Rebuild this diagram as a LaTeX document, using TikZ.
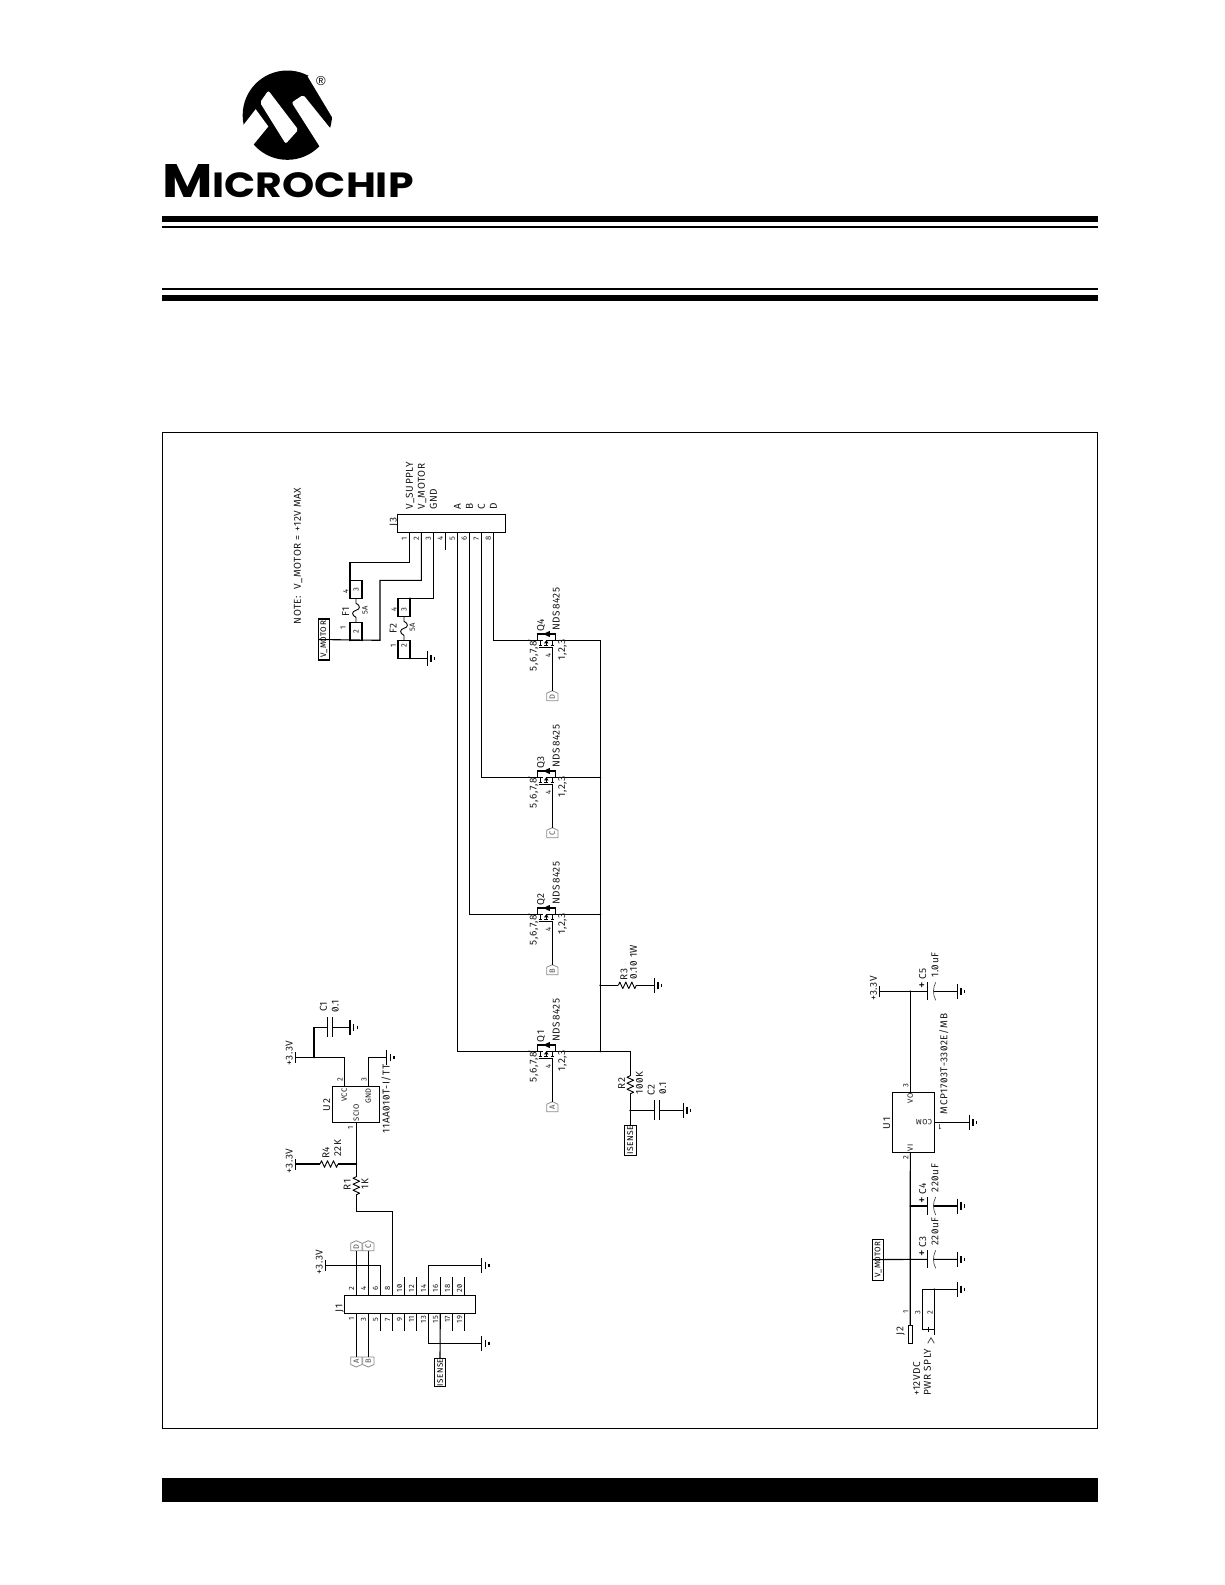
\documentclass[tikz,border=0pt]{standalone}
\usepackage{fontspec}
\usepackage{graphicx}
\setmainfont[RawFeature=+zero,LetterSpace=6]{Fira Sans}
\newfontfamily\logofont{Poppins}
\newfontfamily\regfont{Liberation Sans}
\newcounter{lb}
\tikzset{
 wire/.style={line width=1.1pt,line cap=butt},
 box/.style={draw,line width=1.1pt,inner sep=0pt,outer sep=0pt},
 lab/.style={rotate=90,inner sep=0pt,text depth=0pt,text=black!90,font=\fontsize{10}{10}\selectfont},
 small/.style={font=\fontsize{7.6}{7.6}\selectfont},
 bigplus/.style={font=\fontsize{13}{13}\selectfont,text=black},
 rule/.style={fill=black},
 gndsym/.pic={\draw[line width=1.1pt] (0,-7.5)--(0,7.5) (3.67,-3.8)--(3.67,3.8) (7.3,-1.8)--(7.3,1.8);},
 railsym/.pic={\draw[line width=1.1pt] (0,-5.5)--(0,5.5);},
 dot/.pic={\fill (0,0) circle[radius=1];},
 resh/.pic={\draw[line width=.9pt,line join=round] (0,0)--(1.5,-3.3)--(4.5,3.3)--(7.5,-3.3)--(10.5,3.3)--(13.5,-3.3)--(16.5,3.3)--(18,0);},
 resv/.pic={\draw[line width=.9pt,line join=round] (0,0)--(-3.3,1.5)--(3.3,4.5)--(-3.3,7.5)--(3.3,10.5)--(-3.3,13.5)--(3.3,16.5)--(0,18);},
 fusesym/.pic={\draw[line width=.9pt] (0,0)--(0,5) .. controls (4.5,7) and (4.5,11) .. (0,12) .. controls (-4.5,13) and (-4.5,17) .. (0,19)--(0,24);},
 capn/.pic={\draw[line width=1.1pt] (0,-10)--(0,10) (5.4,-10)--(5.4,10); \coordinate (-b) at (5.4,0);},
 capp/.pic={\draw[line width=1.1pt] (0,-9)--(0,9); \draw[line width=.7pt,black!70] (8,-9) .. controls (5,-3) and (5,3) .. (8,9); \coordinate (-b) at (5.8,0);},
 mosfet/.pic={
   \draw[line width=1.1pt] (-9,0)--(-9,-6.3)--(9.4,-6.3)--(9.4,0);
   \fill (-3,-6.3)--(2.6,-9)--(2.6,-3.6)--cycle;
   \draw[line width=1pt] (3,-9)--(3,-3.6);
   \draw[line width=1.1pt] (-17.3,0)--(-3,0) (0,0)--(17.7,0);
   \draw[line width=1pt] (-6,0)--(-6,5.3) (0,0)--(0,5.3) (6,0)--(6,5.3);
   \draw[line width=1pt] (-7.8,5.3)--(-4.2,5.3) (-2,5.3)--(2,5.3) (4.2,5.3)--(7.8,5.3);
   \draw[line width=1pt] (-7.8,7)--(6,7);
   \fill (0,-0.2)--(-2.2,3)--(2.2,3)--cycle;
   \fill (-17.3,0) circle[radius=.9] (17.7,0) circle[radius=.9];
   \coordinate (-d) at (-17.3,0);
   \coordinate (-s) at (17.7,0);
   \coordinate (-g) at (6,7);
 },
 tagup/.pic={\draw[line width=.8pt,black!45] (0,0)--(5.6,2.5)--(5.6,10)--(-5.6,10)--(-5.6,2.5)--cycle;
   \node[lab,small,text=black!70] at (0,6) {#1};
   \coordinate (-t) at (0,0); \coordinate (-b) at (0,10);},
 tagdn/.pic={\draw[line width=.8pt,black!45] (0,0)--(5.6,-2.5)--(5.6,-10)--(-5.6,-10)--(-5.6,-2.5)--cycle;
   \node[lab,small,text=black!70] at (0,-6) {#1};
   \coordinate (-b) at (0,-10);},
}
\newcommand\T[4][]{\stepcounter{lb}\node[lab,#1] (t\the\value{lb}) at (#2,#3) {#4};}
\begin{document}
\begin{tikzpicture}[x=1pt,y=-1pt]
\useasboundingbox[fill=white] (0,0) rectangle (1225,1585);

% ---------- page furniture
\fill[rule] (162,216) rectangle (1098,222);
\fill[rule] (162,225.7) rectangle (1098,227.7);
\fill[rule] (162,288) rectangle (1098,290);
\fill[rule] (162,295) rectangle (1098,301);
\draw[line width=1pt] (162,432.5) rectangle (1097.7,1428.3);
\fill[rule] (162,1478.3) rectangle (1098,1501.7);

% ---------- logo
\begin{scope}[shift={(235,66.5)},x=0.3333pt,y=-0.3333pt]
 \fill (157,146) circle[radius=134];
 \fill[white] (218,30)--(293,155)--(330,100)--(260,0)--cycle;
 \fill[white] (22,180)--(62,128)--(100,180)--(55,235)--(0,250)--(0,190)--cycle;
 \fill[white,rounded corners=2pt] (100,72)--(75,108)--(152,232)--(190,190)--cycle;
 \fill[white,rounded corners=2pt] (205,85)--(170,108)--(268,262)--(320,250)--(320,190)--(287,187)--cycle;
\end{scope}
\node[inner sep=0pt,font=\fontsize{13}{13}\selectfont\regfont] (regmark) at (321,81) {\textregistered};
\node[anchor=base west,inner sep=0pt,font=\logofont\bfseries] (brand) at (162,197)
  {\scalebox{1.17}[1]{{\fontsize{47}{47}\selectfont M}{\fontsize{35}{35}\selectfont ICROCHIP}}};

% ---------- J3
\node[box,minimum width=108pt,minimum height=18.3pt] (J3) at (451.3,523.2) {};
\T{393.3}{521.7}{J3}
\foreach \n/\x in {1/409.3,2/421.3,3/433.3,4/445.3,5/457.3,6/469.3,7/481.3,8/493.3}{
  \coordinate (J3p\n) at (\x,532.3);
  \T[small]{\x-5}{538.7}{\n}
}
\foreach \x/\s in {409.3/V\_SUPPLY,421.3/V\_MOTOR,433.3/GND,457.3/A,469.3/B,481.3/C,493.3/D}{
  \stepcounter{lb}\node[lab,anchor=west] (t\the\value{lb}) at (\x,509.7) {\s};
}
\T{297.3}{556}{NOTE:\ \ V\_MOTOR = +12V MAX}
\coordinate (J3p4e) at (445.3,550.3);
\draw[wire] (J3p4)--(J3p4e);

% fuses
\node[box,minimum width=12pt,minimum height=18pt] (F1a) at (356,589.3) {};
\node[box,minimum width=12pt,minimum height=18pt] (F1b) at (356,631.3) {};
\pic at (356,598.3) {fusesym};
\T[small]{356}{590}{3}\T[small]{356}{631.5}{2}
\T[small]{345.7}{591.7}{4}\T[small]{343}{628}{1}
\T{345.7}{611.7}{F1}\T[small]{365}{610}{5A}
\node[box,minimum width=12pt,minimum height=18pt] (F2a) at (404,607.3) {};
\node[box,minimum width=12pt,minimum height=18pt] (F2b) at (404,649.3) {};
\pic at (404,616.3) {fusesym};
\T[small]{404}{609.3}{3}\T[small]{404}{646}{2}
\T[small]{394}{609.3}{4}\T[small]{393.3}{646}{1}
\T{393.3}{628.3}{F2}\T[small]{412.3}{627.3}{5A}
\coordinate (F1t) at (350,580.3);
\coordinate (F2t) at (410,598.3);
\coordinate (F1j) at (362,640.3);
\coordinate (F1k) at (350,640.3);
\coordinate (F2g) at (410,658.3);
\node[box,rotate=90,minimum width=41pt,minimum height=11pt,font=\fontsize{8}{8}\selectfont] (VM1) at (323.8,639.5) {V\_MOTOR};
\draw[wire] (J3p1)--(409.3,562.3)-|(F1t);
\draw[wire] (J3p2)--(421.3,580.3)-|(380,640.3)--(VM1.north);
\draw[wire] (J3p3)--(433.3,598.3)--(F2t);
\pic at (F1t) {dot}; \pic at (F2t) {dot}; \pic at (F1j) {dot}; \pic at (F1k) {dot}; \pic at (F2g) {dot};
\coordinate (G0) at (427.3,658.3);
\draw[wire] (F2g)--(G0);
\pic at (G0) {gndsym};

% ---------- MOSFETs
\coordinate (S1) at (600.3,1051.3);
\foreach \q/\y/\tg/\p in {Q1/1051.3/A/5,Q2/914.3/B/6,Q3/777.3/C/7,Q4/640.3/D/8}{
  \pic (\q) at (546.3,\y) {mosfet};
  \pic (T\q) at (552.3,\y+50.4) {tagup={\tg}};
  \draw[wire] (\q-g)--(T\q-t);
  \draw[wire] (J3p\p)|-(\q-d);
  \draw[wire] (\q-s)-|(S1);
  \T{540.7}{\y-15}{\q}
  \T[anchor=west]{556}{\y-9.6}{NDS8425}
  \T[anchor=east]{533.3}{\y+0.5}{5,6,7,8}
  \T[anchor=east]{561.7}{\y-1.5}{1,2,3}
  \T[small]{548.3}{\y+15.4}{4}
}
\foreach \y in {914.3,777.3,985.3,1051.3}{\pic at (600.3,\y) {dot};}

% R3
\coordinate (R3l) at (600.3,985.3);
\pic at (618.3,985.3) {resh};
\coordinate (R3g) at (654.3,985.3);
\draw[wire] (R3l)--(618.3,985.3) (636.3,985.3)--(R3g);
\pic at (R3g) {gndsym};
\T{624}{974.3}{R3}
\T[anchor=west]{633.3}{980}{0.10 1W}

% R2, C2, ISENSE
\coordinate (R2t) at (630.3,1075.7);
\draw[wire] (S1)-|(R2t);
\pic at (R2t) {resv};
\node[box,rotate=90,minimum width=29.6pt,minimum height=12pt,font=\fontsize{8.4}{8.4}\selectfont] (IS1) at (630.3,1140.5) {ISENSE};
\draw[wire] (630.3,1093.7)--(IS1.east);
\coordinate (C2j) at (630.3,1110.3);
\pic at (C2j) {dot};
\pic (C2) at (654.3,1110.3) {capn};
\coordinate (C2g) at (683.3,1110.3);
\draw[wire] (C2j)--(654.3,1110.3) (C2-b)--(C2g);
\pic at (C2g) {gndsym};
\T{621.7}{1083.3}{R2}\T{639.3}{1083.3}{100K}
\T{651}{1090}{C2}\T{662.7}{1088}{0.1}

% ---------- U2
\node[box,minimum width=47pt,minimum height=35.6pt] (U2) at (355.8,1104.5) {};
\coordinate (U2v) at (344.3,1086.7);
\coordinate (U2g) at (368.3,1086.7);
\coordinate (U2s) at (356.3,1122.3);
\coordinate (R1) at (356.3,1176.7);
\coordinate (R4j) at (356.3,1164);
\coordinate (V1) at (295.7,1057.3);
\coordinate (V2) at (295.7,1164);
\coordinate (C1j) at (314,1057.3);
\coordinate (G1) at (386.7,1057.3);
\coordinate (G2) at (350,1027.3);
\draw[wire] (U2v)|-(V1);
\draw[wire] (U2g)|-(G1);
\draw[wire] (U2s)--(R1);
\draw[wire] (C1j)|-(327.3,1027.3);
\pic (C1) at (327.3,1027.3) {capn};
\draw[wire] (C1-b)--(G2);
\pic at (V1) {railsym}; \pic at (V2) {railsym}; \pic at (G1) {gndsym}; \pic at (G2) {gndsym}; \pic at (C1j) {dot}; \pic at (R4j) {dot};
\pic at (320,1164) {resh};
\draw[wire] (V2)--(320,1164) (338,1164)--(R4j);
\pic at (R1) {resv};
\T{289.3}{1053}{+3.3V}\T{289.3}{1161}{+3.3V}
\T{323.3}{1006.7}{C1}\T{335.3}{1006.7}{0.1}
\T[small]{340}{1080}{2}\T[small]{364}{1080}{3}\T[small]{350.7}{1128.3}{1}
\T[small]{344.3}{1095}{VCC}\T[small]{368.3}{1096}{GND}\T[small]{356.3}{1112.7}{SCIO}
\T{326.7}{1105}{U2}
\T{385.7}{1099}{11AA010T-I/TT}
\T{326}{1152.7}{R4}\T{337.7}{1148.3}{22K}
\T{347.3}{1185}{R1}\T{365}{1184.3}{1K}

% ---------- J1
\node[box,minimum width=131pt,minimum height=18pt] (J1) at (409.8,1304.3) {};
\T{339}{1308.3}{J1}
\foreach \n/\m/\x in {2/1/356.3,4/3/368.3,6/5/380.3,8/7/392.3,10/9/404.3,12/11/416.3,14/13/428.3,16/15/440.3,18/17/452.3,20/19/464.3}{
  \coordinate (Jt\n) at (\x,1295.3);
  \coordinate (Jb\m) at (\x,1313.3);
  \T[small]{\x-4.7}{1288.3}{\n}
  \T[small]{\x-4.7}{1319.3}{\m}
}
\foreach \n/\x in {10/404.3,12/416.3,16/440.3,18/452.3,20/464.3}{\draw[wire] (Jt\n)--(\x,1277.3);}
\foreach \n/\x in {5/380.3,7/392.3,9/404.3,11/416.3,17/452.3,19/464.3}{\draw[wire] (Jb\n)--(\x,1331);}
\pic (TD) at (356.3,1240.7) {tagup={D}};
\pic (TC) at (368.3,1240.7) {tagup={C}};
\pic (TA) at (356.3,1367) {tagdn={A}};
\pic (TB) at (368.3,1367) {tagdn={B}};
\draw[wire] (Jt2)--(TD-b); \draw[wire] (Jt4)--(TC-b);
\draw[wire] (Jb1)--(TA-b); \draw[wire] (Jb3)--(TB-b);
\coordinate (V3) at (325.7,1265.3);
\coordinate (G3) at (481.7,1265.3);
\coordinate (G4) at (481.7,1343.3);
\draw[wire] (Jt6)|-(V3);
\draw[wire] (Jt14)|-(G3);
\draw[wire] (Jb13)|-(G4);
\pic at (V3) {railsym}; \pic at (G3) {gndsym}; \pic at (G4) {gndsym};
\T{319.3}{1262}{+3.3V}
\draw[wire] (356.3,1194.7)--(356.3,1211.7)-|(Jt8);
\node[box,rotate=90,minimum width=28.4pt,minimum height=10.6pt,font=\fontsize{8}{8}\selectfont] (IS2) at (440,1372.5) {ISENSE};
\draw[wire] (Jb15)--(IS2.east);

% ---------- U1
\node[box,minimum width=42pt,minimum height=60pt] (U1) at (913.3,1122.3) {};
\coordinate (U1o) at (910.3,1092.3);
\coordinate (U1i) at (910.3,1152.3);
\coordinate (V4) at (879.3,991.3);
\coordinate (C5j) at (910.3,991.3);
\coordinate (G5) at (957.3,991.3);
\coordinate (G6) at (969.3,1122.3);
\coordinate (C4j) at (910.3,1206);
\coordinate (C3j) at (910.3,1259.3);
\coordinate (G7) at (957.3,1206);
\coordinate (G8) at (957.3,1259.3);
\coordinate (G9) at (957.3,1289.3);
\node[box,minimum width=3.7pt,minimum height=18.3pt] (J2) at (910.2,1334.2) {};
\draw[wire] (U1o)--(C5j);
\draw[wire] (V4)--(927.7,991.3);
\draw[wire] (U1i)--(J2.north);
\draw[wire] (U1.east)--(G6);
\pic at (V4) {railsym}; \pic at (C5j) {dot}; \pic at (G6) {gndsym};
\pic (C5) at (927.7,991.3) {capp};
\draw[wire] (C5-b)--(G5); \pic at (G5) {gndsym};
\pic (C4) at (927.7,1206) {capp};
\draw[wire] (C4j)--(927.7,1206) (C4-b)--(G7); \pic at (G7) {gndsym}; \pic at (C4j) {dot};
\pic (C3) at (927.7,1259.3) {capp};
\node[box,rotate=90,minimum width=41pt,minimum height=11pt,font=\fontsize{8}{8}\selectfont] (VM2) at (878.2,1259.6) {V\_MOTOR};
\draw[wire] (VM2.north)--(927.7,1259.3) (C3-b)--(G8); \pic at (G8) {gndsym}; \pic at (C3j) {dot};
% J2 return
\coordinate (J2c) at (934.3,1289.3);
\draw[wire] (G9)--(922.3,1289.3)--(922.3,1329.3)--(934.3,1329.3);
\draw[wire] (J2c)--(934.3,1335);
\pic at (G9) {gndsym}; \pic at (J2c) {dot};
\draw[line width=1pt] (928.3,1327)--(928.3,1332);
\draw[line width=.8pt,black!70] (927.7,1343.3)--(931,1337.7)--(934.3,1343.3);
% U1 text
\T{886.7}{1123.3}{U1}
\T[small]{905.7}{1086}{3}\T[small]{905.7}{1157.7}{2}
\T[small]{910.3}{1098.3}{VO}\T[small]{910.3}{1148}{VI}
\T[small,rotate=90]{924}{1122.3}{COM}
\T[small,rotate=90]{940}{1126.7}{1}
\T{943.3}{1064}{MCP1703T-3302E/MB}
\T{873.3}{988.3}{+3.3V}
\foreach \l/\v/\yy in {C5/1.0uF/991.3,C4/220uF/1206,C3/220uF/1259.3}{
  \T{922.7}{\yy-17}{\l}
  \T[bigplus]{922.7}{\yy-6}{+}
  \T[anchor=west]{935}{\yy-13.3}{\v}
}
\T[small]{905.7}{1312.3}{1}\T[small]{917.7}{1312.3}{3}\T[small]{930}{1312.3}{2}
\T{900}{1331}{J2}
\T[anchor=west]{916.7}{1396}{+12VDC}
\T[anchor=west]{927.3}{1396}{PWR SPLY}
\end{tikzpicture}
\end{document}
